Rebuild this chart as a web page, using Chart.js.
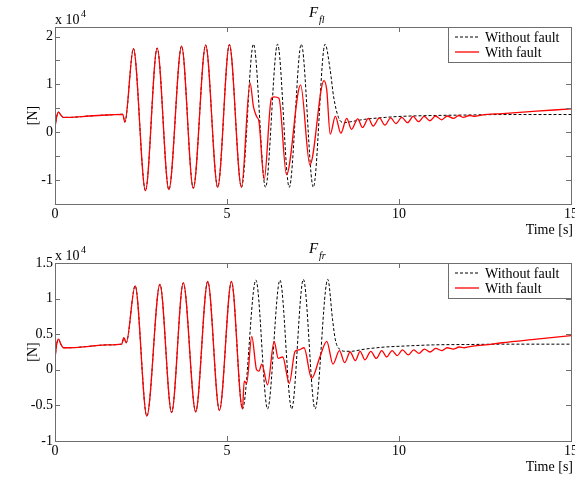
<!DOCTYPE html>
<html>
<head>
<meta charset="utf-8">
<script src="https://cdn.jsdelivr.net/npm/chart.js@4.4.1/dist/chart.umd.min.js"></script>
<style>
  body { margin: 0; background: #fff; }
  .box { position: absolute; left: 0; width: 575px; }
</style>
</head>
<body>
<div class="box" style="top:0;height:238px"><canvas id="ffl"></canvas></div>
<div class="box" style="top:238px;height:239px"><canvas id="ffr"></canvas></div>
<script>
// valori in x 10^4 N, tempo in s
// F_fl : parte comune (prima del guasto)
const flPreT = [0, 0.05, 0.1, 0.17, 0.24, 0.4, 1.0, 1.5, 1.97, 2.03, 2.28, 2.63, 2.97, 3.31, 3.68, 4.02, 4.38, 4.73, 5.07, 5.42];
const flPreV = [0.1, 0.33, 0.42, 0.36, 0.31, 0.31, 0.34, 0.36, 0.375, 0.21, 1.75, -1.22, 1.76, -1.2, 1.8, -1.17, 1.82, -1.15, 1.83, -1.15];
// F_fl senza guasto
const flNoT = [5.77, 6.12, 6.47, 6.81, 7.16, 7.51, 7.85, 8.0, 8.1, 8.24, 8.4, 8.6, 9.0, 9.6, 10.0, 11.0, 12.0, 13.0, 15.0];
const flNoV = [1.84, -1.15, 1.84, -1.15, 1.84, -1.15, 1.84, 1.3, 0.74, 0.31, 0.2, 0.22, 0.27, 0.31, 0.33, 0.35, 0.36, 0.37, 0.37];
// F_fl con guasto
const flYesT = [5.67, 5.77, 5.86, 5.93, 6.08, 6.29, 6.37, 6.51, 6.73, 7.14, 7.41, 7.82, 7.9, 8.0, 8.15, 8.31, 8.48, 8.62, 8.8, 8.94,
  9.11, 9.25, 9.43, 9.59, 9.76, 9.91, 10.08, 10.25, 10.41, 10.57, 10.73, 10.9, 11.06, 11.24, 11.4, 11.58, 11.74, 11.87, 12.05, 12.2, 12.4, 13, 14, 15];
const flYesV = [1.03, 0.53, 0.33, 0.22, -0.99, 0.71, 0.74, 0.71, -0.89, 0.99, -0.68, 1.08, 0.88, -0.04, 0.33, -0.02, 0.29, 0.06, 0.28, 0.1,
  0.29, 0.13, 0.3, 0.15, 0.3, 0.18, 0.31, 0.2, 0.33, 0.22, 0.33, 0.24, 0.34, 0.26, 0.34, 0.29, 0.35, 0.31, 0.35, 0.33, 0.36, 0.39, 0.44, 0.49];

// F_fr : parte comune
const frPreT = [0, 0.05, 0.1, 0.17, 0.24, 0.4, 1.0, 1.5, 1.94, 2.0, 2.07, 2.33, 2.67, 3.05, 3.39, 3.73, 4.09, 4.44, 4.78, 5.13, 5.45];
const frPreV = [0.16, 0.36, 0.43, 0.36, 0.31, 0.31, 0.33, 0.35, 0.36, 0.45, 0.38, 1.18, -0.65, 1.2, -0.6, 1.22, -0.59, 1.24, -0.57, 1.24, -0.55];
// F_fr senza guasto
const frNoT = [5.84, 6.18, 6.54, 6.88, 7.22, 7.56, 7.93, 8.07, 8.15, 8.27, 8.45, 8.6, 9.0, 9.6, 10.0, 11.0, 12.0, 13.0, 15.0];
const frNoV = [1.26, -0.55, 1.26, -0.55, 1.27, -0.55, 1.27, 0.7, 0.42, 0.29, 0.26, 0.26, 0.29, 0.32, 0.33, 0.35, 0.355, 0.36, 0.36];
// F_fr con guasto
const frYesT = [5.5, 5.57, 5.72, 5.86, 5.93, 6.01, 6.18, 6.37, 6.49, 6.62, 6.81, 6.98, 7.1, 7.24, 7.46, 7.7, 7.9, 8.08, 8.27, 8.42,
  8.58, 8.73, 8.87, 9.01, 9.18, 9.34, 9.5, 9.64, 9.8, 9.95, 10.1, 10.27, 10.43, 10.58, 10.74, 10.9, 11.07, 11.24, 11.4, 11.58, 11.75, 11.9, 12.1, 12.5, 13, 14, 15];
const frYesV = [-0.16, -0.19, 0.47, 0.0, -0.02, 0.08, -0.21, 0.4, 0.16, 0.18, -0.19, 0.26, 0.28, 0.31, -0.12, 0.18, 0.4, 0.08, 0.27, 0.1,
  0.25, 0.13, 0.26, 0.14, 0.26, 0.16, 0.27, 0.18, 0.27, 0.2, 0.28, 0.21, 0.28, 0.23, 0.29, 0.25, 0.3, 0.27, 0.31, 0.29, 0.32, 0.31, 0.33, 0.35, 0.38, 0.43, 0.48];

const xTicks = [0, 5, 10, 15];
const legendLabels = ['Without fault', 'With fault'];

const SERIF = "'Liberation Serif', 'Times New Roman', serif";
const AXIS = '#6e6e6e';

function pts(t, v) {
  return t.map((x, i) => ({ x: x, y: v[i] }));
}

// titolo, legenda, box e tacche interne (stile MATLAB)
const decor = {
  id: 'decor',
  afterDraw(chart, args, opts) {
    const c = chart.ctx;
    const a = chart.chartArea;
    const xs = chart.scales.x, ys = chart.scales.y;
    c.save();
    c.strokeStyle = AXIS;
    c.lineWidth = 1;
    c.beginPath();
    ys.ticks.forEach(t => {
      const p = Math.round(ys.getPixelForValue(t.value)) + 0.5;
      c.moveTo(a.left, p); c.lineTo(a.left + 5, p);
      c.moveTo(a.right, p); c.lineTo(a.right - 5, p);
    });
    xs.ticks.forEach(t => {
      const p = Math.round(xs.getPixelForValue(t.value)) + 0.5;
      c.moveTo(p, a.bottom); c.lineTo(p, a.bottom - 5);
      c.moveTo(p, a.top); c.lineTo(p, a.top + 5);
    });
    c.stroke();
    c.strokeRect(Math.round(a.left) + 0.5, Math.round(a.top) + 0.5, Math.round(a.right - a.left), Math.round(a.bottom - a.top));

    c.fillStyle = '#000';
    // titolo F con pedice
    c.textBaseline = 'alphabetic';
    c.textAlign = 'left';
    const cx = (a.left + a.right) / 2;
    c.font = 'italic 15px ' + SERIF;
    c.fillText('F', cx - 4, a.top - 10);
    c.font = 'italic 10px ' + SERIF;
    c.fillText(opts.sub, cx + 6, a.top - 4);
    // moltiplicatore
    c.font = '14px ' + SERIF;
    c.fillText('x 10', a.left, a.top - 3);
    c.font = '10px ' + SERIF;
    c.fillText('4', a.left + 26, a.top - 10);
    // asse x
    c.font = '14px ' + SERIF;
    c.textAlign = 'right';
    c.fillText('Time [s]', 573, a.bottom + 30);
    // asse y
    c.save();
    c.translate(33, (a.top + a.bottom) / 2);
    c.rotate(-Math.PI / 2);
    c.textAlign = 'center';
    c.textBaseline = 'middle';
    c.fillText('[N]', 0, 0);
    c.restore();

    // legenda
    const lx = a.right - 123, ly = a.top, lw = 123, lh = 35;
    c.fillStyle = '#fff';
    c.fillRect(lx, ly, lw, lh);
    c.strokeStyle = AXIS;
    c.strokeRect(Math.round(lx) + 0.5, Math.round(ly) + 0.5, lw, lh);
    const rows = [
      { y: ly + 10, color: '#000', dash: [3, 2], w: 1 },
      { y: ly + 25, color: '#ff0000', dash: [], w: 1.3 }
    ];
    rows.forEach((r, i) => {
      c.beginPath();
      c.strokeStyle = r.color;
      c.lineWidth = r.w;
      c.setLineDash(r.dash);
      c.moveTo(lx + 7, r.y); c.lineTo(lx + 31, r.y);
      c.stroke();
      c.setLineDash([]);
      c.fillStyle = '#000';
      c.font = '14px ' + SERIF;
      c.textAlign = 'left';
      c.textBaseline = 'middle';
      c.fillText(legendLabels[i], lx + 37, r.y + 1);
    });
    c.restore();
  }
};

function makeChart(id, sub, preT, preV, noT, noV, yesT, yesV, yMin, yMax, xHeight, labelAll) {
  const noFault = pts(preT.concat(noT), preV.concat(noV));
  const withFault = pts(preT.concat(yesT), preV.concat(yesV));
  return new Chart(document.getElementById(id), {
    type: 'line',
    data: {
      datasets: [
        { label: legendLabels[0], data: noFault, borderColor: '#000', borderWidth: 1, borderDash: [3, 2],
          pointRadius: 0, cubicInterpolationMode: 'monotone', order: 1 },
        { label: legendLabels[1], data: withFault, borderColor: '#ff0000', borderWidth: 1.3,
          pointRadius: 0, cubicInterpolationMode: 'monotone', order: 0 }
      ]
    },
    options: {
      responsive: true,
      maintainAspectRatio: false,
      animation: false,
      layout: { padding: { top: id === 'ffl' ? 27 : 25, right: 4, left: 0, bottom: 0 } },
      plugins: { legend: { display: false }, tooltip: { enabled: false }, decor: { sub: sub } },
      scales: {
        x: {
          type: 'linear', min: 0, max: 15,
          afterBuildTicks: s => { s.ticks = xTicks.map(v => ({ value: v })); },
          ticks: { color: '#000', font: { family: SERIF, size: 14 }, padding: 2, maxRotation: 0,
            callback: v => String(v) },
          grid: { display: false, drawTicks: false },
          border: { display: false },
          afterFit: s => { s.height = xHeight; s.paddingLeft = 0; s.paddingRight = 0; }
        },
        y: {
          min: yMin, max: yMax,
          ticks: { stepSize: 0.5, includeBounds: false, color: '#000', font: { family: SERIF, size: 14 }, padding: 2,
            callback: v => (labelAll || Number.isInteger(v)) ? String(v) : '' },
          grid: { display: false, drawTicks: false },
          border: { display: false },
          afterFit: s => { s.width = 55; s.paddingTop = 0; s.paddingBottom = 0; }
        }
      }
    },
    plugins: [decor]
  });
}

makeChart('ffl', 'fl', flPreT, flPreV, flNoT, flNoV, flYesT, flYesV, -1.5, 2.2, 34, false);
makeChart('ffr', 'fr', frPreT, frPreV, frNoT, frNoV, frYesT, frYesV, -1, 1.5, 36, true);
</script>
</body>
</html>
